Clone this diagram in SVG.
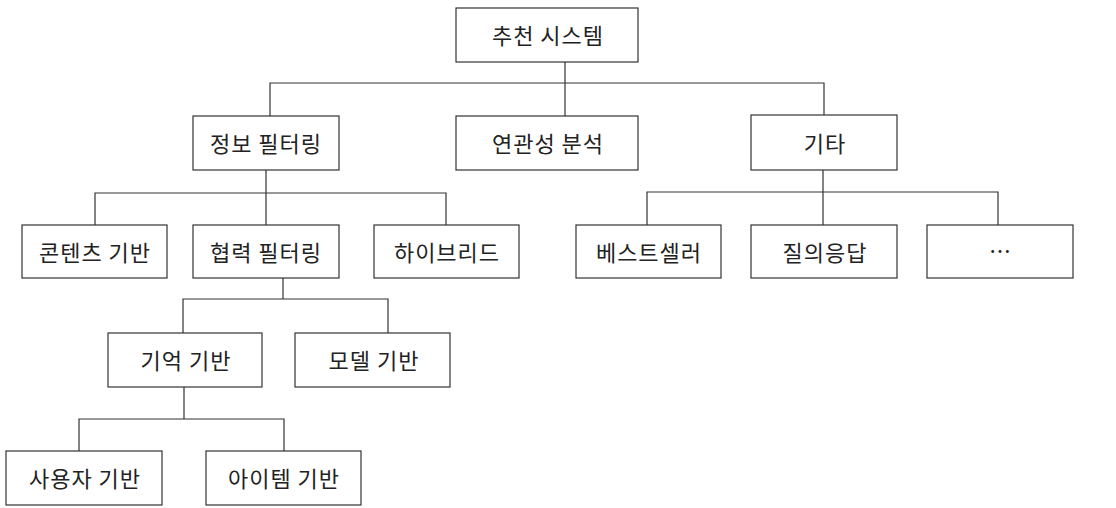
<svg xmlns="http://www.w3.org/2000/svg" width="1116" height="508" viewBox="0 0 1116 508">
<style>
rect{fill:#fff;stroke:#333;stroke-width:1.2}
text{font-family:"Noto Sans CJK KR","Noto Sans",sans-serif;font-size:22px;letter-spacing:1px;fill:#222;text-anchor:middle;dominant-baseline:central}
.c{fill:none;stroke:#333;stroke-width:1.2}
</style>
<rect x="0" y="0" width="1116" height="508" style="stroke:none"/>
<g id="connectors">
<path class="c" d="M565 62V83M270 116V83H824V115M565 83V116"/>
<path class="c" d="M266 170V193M95 225V193H446V225M266 193V225"/>
<path class="c" d="M823 170V192M647 225V192H998V225M823 192V225"/>
<path class="c" d="M283 278V299M183 333V299H388V333"/>
<path class="c" d="M184 387V419M79 451V419H284V451"/>
</g>
<g id="root"><rect x="456" y="8" width="182" height="54"/><text x="548" y="34">추천 시스템</text></g>
<g id="info"><rect x="193" y="116" width="146" height="54"/><text x="266" y="142">정보 필터링</text></g>
<g id="assoc"><rect x="456" y="116" width="182" height="54"/><text x="548" y="142">연관성 분석</text></g>
<g id="etc"><rect x="751" y="115" width="146" height="55"/><text x="825" y="142">기타</text></g>
<g id="content"><rect x="22" y="225" width="145" height="53"/><text x="95" y="251">콘텐츠 기반</text></g>
<g id="collab"><rect x="193" y="225" width="146" height="53"/><text x="266" y="251">협력 필터링</text></g>
<g id="hybrid"><rect x="374" y="225" width="145" height="53"/><text x="447" y="251">하이브리드</text></g>
<g id="best"><rect x="576" y="225" width="145" height="53"/><text x="649" y="251">베스트셀러</text></g>
<g id="qa"><rect x="751" y="225" width="146" height="53"/><text x="825" y="251">질의응답</text></g>
<g id="more"><rect x="927" y="225" width="146" height="53"/><text x="1000" y="249" style="letter-spacing:0">…</text></g>
<g id="memory"><rect x="108" y="333" width="154" height="54"/><text x="186" y="359">기억 기반</text></g>
<g id="model"><rect x="295" y="333" width="155" height="54"/><text x="374" y="359">모델 기반</text></g>
<g id="user"><rect x="6" y="451" width="156" height="54"/><text x="85" y="477">사용자 기반</text></g>
<g id="item"><rect x="206" y="451" width="155" height="54"/><text x="284" y="477">아이템 기반</text></g>
</svg>
